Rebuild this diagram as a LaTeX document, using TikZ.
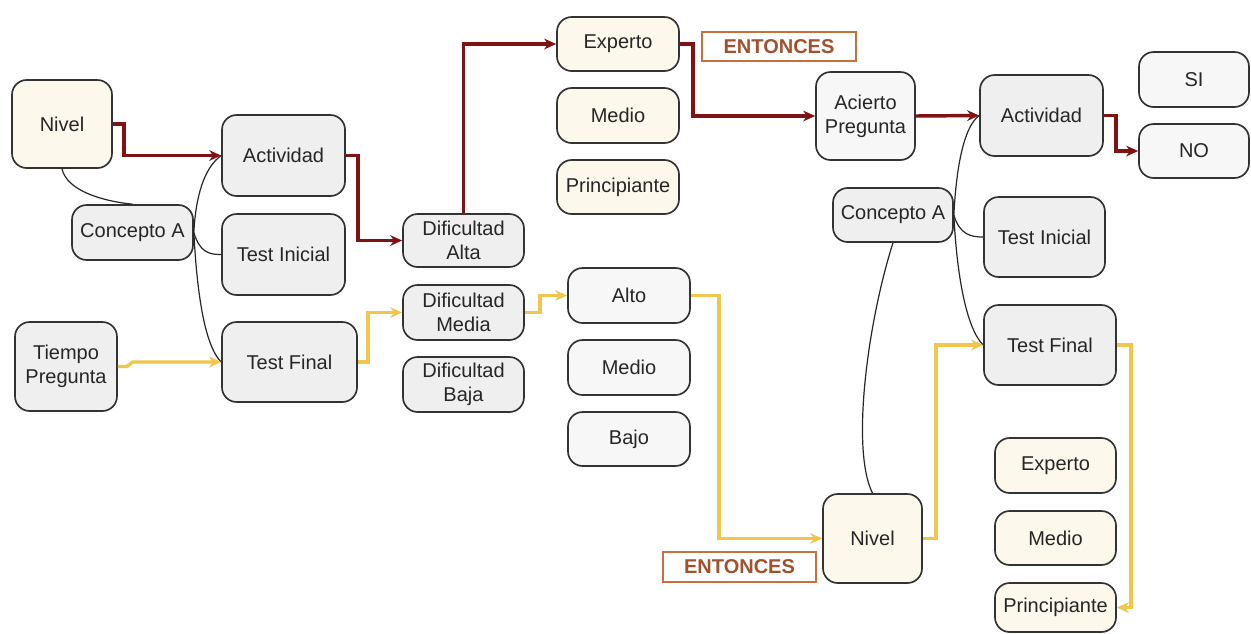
\documentclass[tikz,border=0pt]{standalone}
\usepackage{fontspec}
\setmainfont{Liberation Sans}
\usetikzlibrary{arrows.meta,calc}
\definecolor{bord}{HTML}{333333}
\definecolor{grayf}{HTML}{EFEFEF}
\definecolor{lightf}{HTML}{F7F7F7}
\definecolor{creamf}{HTML}{FDF8EC}
\definecolor{redl}{HTML}{7F1212}
\definecolor{yell}{HTML}{F0C64C}
\definecolor{entb}{HTML}{C8703A}
\definecolor{entt}{HTML}{A0522D}
\tikzset{
  box/.style 2 args={draw=bord, line width=1.25pt, rounded corners=11pt, inner sep=0pt,
     minimum width=#1*0.75pt, minimum height=#2*0.75pt, align=center,
     font=\fontsize{15}{18}\selectfont, text=black!85},
  gbox/.style 2 args={box={#1}{#2}, fill=grayf},
  lbox/.style 2 args={box={#1}{#2}, fill=lightf},
  cbox/.style 2 args={box={#1}{#2}, fill=creamf},
  entbox/.style={draw=entb, line width=1.4pt, fill=white, inner sep=0pt,
     minimum width=154*0.75pt, minimum height=29*0.75pt,
     font=\fontsize{15}{18}\selectfont\bfseries, text=entt},
  redarrow/.style={draw=redl, line width=2.6pt, -{Stealth[length=9pt,width=8pt]}},
  yelarrow/.style={draw=yell, line width=2.6pt, -{Stealth[length=9pt,width=8pt]}},
  link/.style={draw=black!85, line width=0.9pt},
}
\begin{document}
\begin{tikzpicture}[x=0.75pt,y=-0.75pt]
\useasboundingbox[fill=white] (0,0) rectangle (1251,633);
% left column
\node[cbox={100}{88}] (nivL) at (62,124) {Nivel};
\node[gbox={123}{81}] (actL) at (283.5,155.5) {Actividad};
\node[gbox={121}{55}] (conL) at (132.5,232.5) {Concepto A};
\node[gbox={123}{81}] (tiL) at (283.5,254.5) {Test Inicial};
\node[gbox={102}{89}] (tp) at (66,366.5) {Tiempo\\Pregunta};
\node[gbox={135}{80}] (tfL) at (289.5,362) {Test Final};
% dificultad
\node[gbox={121}{53}] (da) at (463.5,240.5) {Dificultad\\Alta};
\node[gbox={121}{55}] (dm) at (463.5,312.5) {Dificultad\\Media};
\node[gbox={121}{55}] (db) at (463.5,384.5) {Dificultad\\Baja};
% top levels
\node[cbox={122}{54}] (ex1) at (618,44) {Experto};
\node[cbox={122}{55}] (me1) at (618,115.5) {Medio};
\node[cbox={122}{54}] (pr1) at (618,187) {Principiante};
\node[entbox] (ent1) at (779,46.5) {ENTONCES};
% alto medio bajo
\node[lbox={122}{55}] (alto) at (629,295.5) {Alto};
\node[lbox={122}{55}] (me2) at (629,367.5) {Medio};
\node[lbox={122}{54}] (bajo) at (629,439) {Bajo};
\node[entbox, minimum width=153*0.75pt, minimum height=30*0.75pt] (ent2) at (739.5,567) {ENTONCES};
% right part
\node[lbox={99}{88}] (ap) at (865.5,116) {Acierto\\Pregunta};
\node[gbox={123}{81}] (actR) at (1041.5,115.5) {Actividad};
\node[lbox={110}{55}] (si) at (1194,79.5) {SI};
\node[lbox={110}{54}] (no) at (1194,151) {NO};
\node[gbox={120}{54}] (conR) at (893,215) {Concepto A};
\node[gbox={121}{80}] (tiR) at (1044.5,237) {Test Inicial};
\node[gbox={132}{80}] (tfR) at (1050,345) {Test Final};
\node[cbox={99}{89}] (nivR) at (872.5,538.5) {Nivel};
\node[cbox={121}{55}] (ex2) at (1055.5,465.5) {Experto};
\node[cbox={121}{54}] (me3) at (1055.5,538) {Medio};
\node[cbox={121}{49}] (pr2) at (1055.5,607.5) {Principiante};
% black links
\draw[link] (nivL.south) .. controls +(5,22) and +(-30,-3) .. (conL.north);
\draw[link] (conL.east) .. controls +(2,-37) and +(-17,12.5) .. (actL.west);
\draw[link] (conL.east) .. controls +(6,20) and +(-12,0) .. (tiL.west);
\draw[link] (conL.east) .. controls +(3,58) and +(-17,-17) .. (tfL.west);
\draw[link] (conR.east) .. controls +(2,-40) and +(-17,12.5) .. (actR.west);
\draw[link] (conR.east) .. controls +(6,20) and +(-12,0) .. (tiR.west);
\draw[link] (conR.east) .. controls +(3,60) and +(-17,-17) .. (tfR.west);
\draw[link] (conR.south) .. controls +(-25,78) and +(-22,-44) .. (nivR.north);
% red path
\draw[redarrow] (nivL.east) -- ++(11,0) |- (actL.west);
\draw[redarrow] (actL.east) -- ++(12,0) |- (da.west);
\draw[redarrow] (da.north) |- (ex1.west);
\draw[redarrow] (ex1.east) -- ++(13,0) |- (ap.west);
\draw[redarrow] (ap.east) -- (actR.west);
\draw[redarrow] (actR.east) -- ++(12,0) |- (no.west);
% yellow path
\draw[yelarrow] (tp.east) -- ++(9,0) -- ++(6,-4.5) -- (tfL.west);
\draw[yelarrow] (tfL.east) -- ++(10,0) |- (dm.west);
\draw[yelarrow] (dm.east) -- ++(15,0) |- (alto.west);
\draw[yelarrow] (alto.east) -- ++(28,0) |- (nivR.west);
\draw[yelarrow] (nivR.east) -- ++(13,0) |- (tfR.west);
\draw[yelarrow] (tfR.east) -- ++(14,0) |- (pr2.east);
\end{tikzpicture}
\end{document}
